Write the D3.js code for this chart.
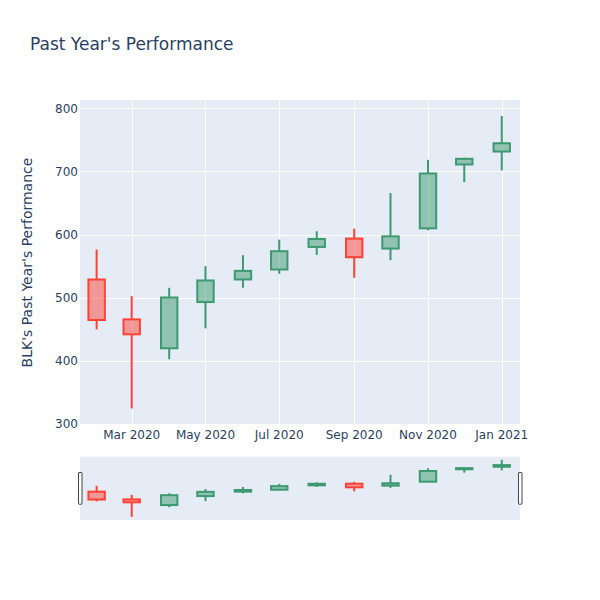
<!DOCTYPE html>
<html>
<head>
<meta charset="utf-8">
<script src="https://cdn.jsdelivr.net/npm/d3@7"></script>
<style>
  html, body { margin: 0; padding: 0; background: #fff; }
  svg { display: block; }
  text { font-family: "DejaVu Sans", sans-serif; fill: #2a3f5f; }
</style>
</head>
<body>
<svg id="chart" width="600" height="600"></svg>
<script>
// ---- data ----
const dates  = ["2020-02-01","2020-03-01","2020-04-01","2020-05-01","2020-06-01","2020-07-01",
                "2020-08-01","2020-09-01","2020-10-01","2020-11-01","2020-12-01","2021-01-01"];
const open   = [528.9, 465.8, 420.0, 493.2, 529.0, 544.8, 580.5, 593.7, 577.9, 610.0, 711.1, 731.6];
const high   = [576.3, 502.6, 515.8, 550.0, 567.4, 592.0, 605.3, 609.5, 665.8, 718.4, 722.0, 787.9];
const low    = [450.0, 324.7, 402.6, 451.6, 515.8, 537.9, 567.9, 531.6, 559.5, 606.8, 683.2, 701.6];
const close  = [464.8, 442.1, 500.4, 527.4, 542.6, 573.7, 593.1, 564.2, 597.3, 696.8, 720.0, 744.7];
const yTicks = [300, 400, 500, 600, 700, 800];
const xTicks = ["2020-03-01","2020-05-01","2020-07-01","2020-09-01","2020-11-01","2021-01-01"];
const xTickLabels = ["Mar 2020","May 2020","Jul 2020","Sep 2020","Nov 2020","Jan 2021"];
const titleText = "Past Year's Performance";
const yTitleText = "BLK's Past Year's Performance";

// ---- layout ----
const plot = {left: 80, right: 520, top: 100, bottom: 425};
const slider = {top: 456.7, bottom: 520};
const incColor = "#3D9970", decColor = "#FF4136";
const incFill = "rgba(61,153,112,0.5)", decFill = "rgba(255,65,54,0.5)";
const parse = d3.utcParse("%Y-%m-%d");
const rows = dates.map((d, i) => ({date: parse(d), o: open[i], h: high[i], l: low[i], c: close[i]}));

const x = d3.scaleUtc()
  .domain([new Date(Date.UTC(2020,0,18,6)), new Date(Date.UTC(2021,0,16,2))])
  .range([plot.left, plot.right]);
const y = d3.scaleLinear().domain([298.5, 813.2]).range([plot.bottom, plot.top]);
const ys = d3.scaleLinear().domain([298.5, 813.2]).range([slider.bottom, slider.top]);

const svg = d3.select("#chart");

// plot background
svg.append("rect").attr("x", plot.left).attr("y", plot.top)
  .attr("width", plot.right - plot.left).attr("height", plot.bottom - plot.top)
  .attr("fill", "#E5ECF6");

// gridlines
const g = svg.append("g");
g.selectAll(".yg").data(yTicks).join("line")
  .attr("x1", plot.left).attr("x2", plot.right)
  .attr("y1", d => Math.round(y(d)) + 0.5).attr("y2", d => Math.round(y(d)) + 0.5)
  .attr("stroke", "#fff").attr("stroke-width", 1);
g.selectAll(".xg").data(xTicks).join("line")
  .attr("x1", d => Math.round(x(parse(d))) + 0.5).attr("x2", d => Math.round(x(parse(d))) + 0.5)
  .attr("y1", plot.top).attr("y2", plot.bottom)
  .attr("stroke", "#fff").attr("stroke-width", 1);

// axis labels
svg.selectAll(".ytl").data(yTicks).join("text")
  .attr("x", plot.left - 2).attr("y", d => y(d) + 4.3)
  .attr("text-anchor", "end").attr("font-size", 12).text(d => d);
svg.selectAll(".xtl").data(xTicks).join("text")
  .attr("x", d => x(parse(d))).attr("y", 439)
  .attr("text-anchor", "middle").attr("font-size", 12)
  .text((d, i) => xTickLabels[i]);

// title
svg.append("text").attr("x", 30).attr("y", 50).attr("font-size", 17).text(titleText);
svg.append("text")
  .attr("transform", `translate(32,${(plot.top + plot.bottom) / 2}) rotate(-90)`)
  .attr("text-anchor", "middle").attr("font-size", 14).text(yTitleText);

// candlesticks
const halfW = 8.2;
function drawCandles(sel, ys_) {
  const cg = sel.append("g");
  rows.forEach(r => {
    const up = r.c >= r.o;
    const col = up ? incColor : decColor;
    const fill = up ? incFill : decFill;
    const cx = x(r.date);
    const top = ys_(Math.max(r.o, r.c)), bot = ys_(Math.min(r.o, r.c));
    cg.append("line").attr("x1", cx).attr("x2", cx)
      .attr("y1", ys_(r.h)).attr("y2", top).attr("stroke", col).attr("stroke-width", 2);
    cg.append("line").attr("x1", cx).attr("x2", cx)
      .attr("y1", bot).attr("y2", ys_(r.l)).attr("stroke", col).attr("stroke-width", 2);
    cg.append("rect").attr("x", cx - halfW).attr("y", top)
      .attr("width", 2 * halfW).attr("height", Math.max(bot - top, 0.5))
      .attr("fill", fill).attr("stroke", col).attr("stroke-width", 2);
  });
}
drawCandles(svg, y);

// range slider
svg.append("rect").attr("x", plot.left).attr("y", slider.top)
  .attr("width", plot.right - plot.left).attr("height", slider.bottom - slider.top)
  .attr("fill", "#E5ECF6");
drawCandles(svg, ys);
const hh = (slider.bottom - slider.top) / 2;
const hy = slider.top + (slider.bottom - slider.top - hh) / 2;
[plot.left - 2, plot.right - 2].forEach(hx => {
  svg.append("rect").attr("x", hx + 0.5).attr("y", hy)
    .attr("width", 3.5).attr("height", hh)
    .attr("fill", "#fff").attr("stroke", "#444").attr("stroke-width", 1)
    .attr("rx", 0.5);
});
</script>
</body>
</html>
